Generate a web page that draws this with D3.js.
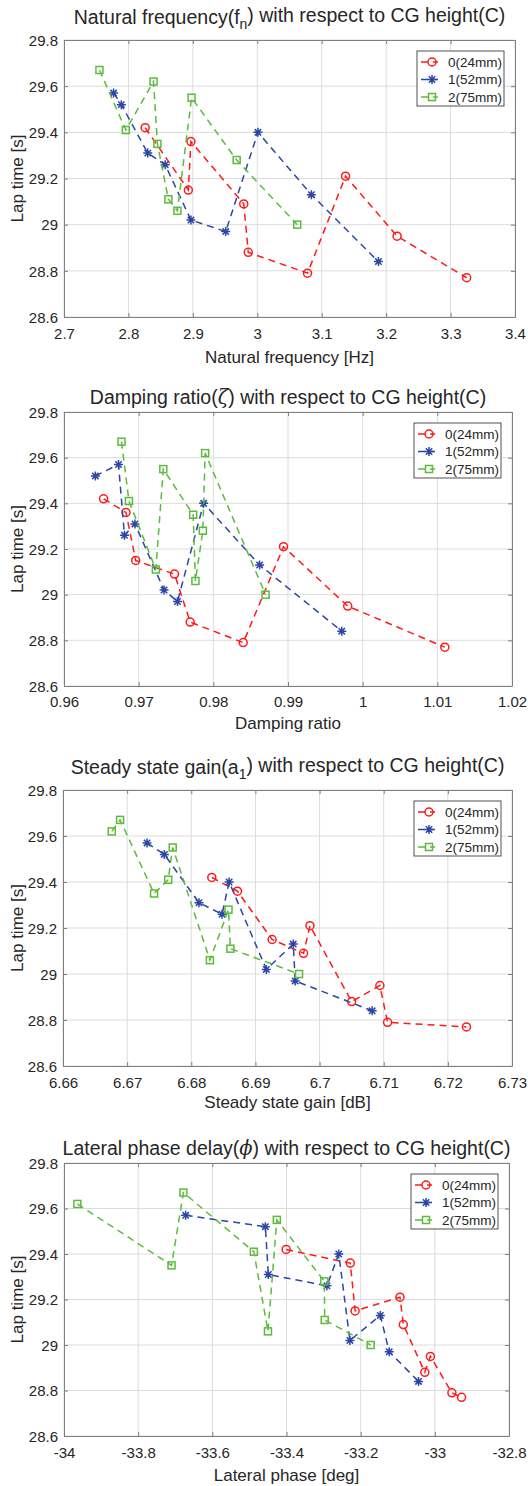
<!DOCTYPE html>
<html>
<head>
<meta charset="utf-8">
<script src="https://cdn.jsdelivr.net/npm/d3@7"></script>
<style>
    body { margin: 0; background: #fff; }
    text { font-family: "Liberation Sans", Arial, sans-serif; fill: #262626; }
</style>
</head>
<body>
<div id="chart"></div>
<script>

// * Data (same 9 runs per CG height, lap time in s)
var seriesNames = ["0(24mm)", "1(52mm)", "2(75mm)"];

var lapTime0 = [29.42, 29.15, 29.36, 29.09, 28.88, 28.79, 29.21, 28.95, 28.77];
var lapTime1 = [29.57, 29.52, 29.31, 29.26, 29.02, 28.97, 29.40, 29.13, 28.84];
var lapTime2 = [29.67, 29.41, 29.62, 29.35, 29.11, 29.06, 29.55, 29.28, 29.00];

// natural frequency [Hz]
var natFreq0 = [2.826, 2.893, 2.897, 2.979, 2.986, 3.078, 3.137, 3.217, 3.325];
var natFreq1 = [2.777, 2.789, 2.830, 2.857, 2.897, 2.951, 3.001, 3.084, 3.188];
var natFreq2 = [2.755, 2.796, 2.839, 2.845, 2.862, 2.876, 2.898, 2.968, 3.062];

// damping ratio
var damping0 = [0.9653, 0.9696, 0.9683, 0.9748, 0.9769, 0.9840, 0.9894, 0.9980, 1.0110];
var damping1 = [0.9673, 0.9642, 0.9695, 0.9681, 0.9734, 0.9752, 0.9787, 0.9862, 0.9972];
var damping2 = [0.9677, 0.9687, 0.9789, 0.9773, 0.9723, 0.9776, 0.9733, 0.9786, 0.9870];

// steady state gain [dB]
var gain0 = [6.6832, 6.6926, 6.6872, 6.6975, 6.7050, 6.7106, 6.6985, 6.7094, 6.7229];
var gain1 = [6.6731, 6.6758, 6.6812, 6.6848, 6.6917, 6.6962, 6.6859, 6.6959, 6.7082];
var gain2 = [6.6689, 6.6764, 6.6676, 6.6742, 6.6861, 6.6829, 6.6771, 6.6858, 6.6968];

// lateral phase [deg]
var phase0 = [-33.401, -33.215, -33.228, -33.085, -33.027, -32.954, -33.094, -33.012, -32.928];
var phase1 = [-33.672, -33.457, -33.449, -33.291, -33.229, -33.123, -33.259, -33.147, -33.044];
var phase2 = [-33.678, -33.488, -33.964, -33.710, -33.297, -33.450, -33.426, -33.298, -33.173];

// * Ticks
var lapTicks = [28.6, 28.8, 29, 29.2, 29.4, 29.6, 29.8];
var lapTickLabels = ["28.6", "28.8", "29", "29.2", "29.4", "29.6", "29.8"];

var natFreqTicks = [2.7, 2.8, 2.9, 3, 3.1, 3.2, 3.3, 3.4];
var natFreqTickLabels = ["2.7", "2.8", "2.9", "3", "3.1", "3.2", "3.3", "3.4"];

var dampingTicks = [0.96, 0.97, 0.98, 0.99, 1, 1.01, 1.02];
var dampingTickLabels = ["0.96", "0.97", "0.98", "0.99", "1", "1.01", "1.02"];

var gainTicks = [6.66, 6.67, 6.68, 6.69, 6.7, 6.71, 6.72, 6.73];
var gainTickLabels = ["6.66", "6.67", "6.68", "6.69", "6.7", "6.71", "6.72", "6.73"];

var phaseTicks = [-34, -33.8, -33.6, -33.4, -33.2, -33, -32.8];
var phaseTickLabels = ["-34", "-33.8", "-33.6", "-33.4", "-33.2", "-33", "-32.8"];


// * Styles
var colors = ["#ff1a1a", "#2b46a6", "#5cbb3c"];
var markers = ["circle", "star", "square"];


/*
 *  lapPanel - one axes of the figure
 *  @param _svg     -- svg selection
 *  @param _config  -- layout, titles, ticks and x values
 */

lapPanel = function(_svg, _config) {
    this.svg = _svg;
    this.config = _config;

    this.initVis();
}

lapPanel.prototype.initVis = function() {
    var vis = this;
    var c = vis.config;

    vis.g = vis.svg.append("g");

    // scales
    vis.x = d3.scaleLinear()
        .domain(d3.extent(c.xTicks))
        .range([c.left, c.right]);

    vis.y = d3.scaleLinear()
        .domain(d3.extent(lapTicks))
        .range([c.bottom, c.top]);

    // grid
    vis.g.selectAll(".gridx")
        .data(c.xTicks)
        .enter().append("line")
        .attr("x1", function(d) { return vis.x(d); })
        .attr("x2", function(d) { return vis.x(d); })
        .attr("y1", c.top)
        .attr("y2", c.bottom)
        .attr("stroke", "#dcdcdc")
        .attr("stroke-width", 1);

    vis.g.selectAll(".gridy")
        .data(lapTicks)
        .enter().append("line")
        .attr("x1", c.left)
        .attr("x2", c.right)
        .attr("y1", function(d) { return vis.y(d); })
        .attr("y2", function(d) { return vis.y(d); })
        .attr("stroke", "#dcdcdc")
        .attr("stroke-width", 1);

    // axes (ticks inward, box on all sides)
    var xBottom = d3.axisBottom(vis.x).tickValues(c.xTicks).tickSizeInner(-4).tickSizeOuter(0)
        .tickFormat(function(d, i) { return c.xTickLabels[i]; });
    var xTop = d3.axisTop(vis.x).tickValues(c.xTicks).tickSizeInner(-4).tickSizeOuter(0)
        .tickFormat("");
    var yLeft = d3.axisLeft(vis.y).tickValues(lapTicks).tickSizeInner(-4).tickSizeOuter(0)
        .tickFormat(function(d, i) { return lapTickLabels[i]; });
    var yRight = d3.axisRight(vis.y).tickValues(lapTicks).tickSizeInner(-4).tickSizeOuter(0)
        .tickFormat("");

    var axB = vis.g.append("g").attr("transform", "translate(0," + c.bottom + ")").call(xBottom);
    var axT = vis.g.append("g").attr("transform", "translate(0," + c.top + ")").call(xTop);
    var axL = vis.g.append("g").attr("transform", "translate(" + c.left + ",0)").call(yLeft);
    var axR = vis.g.append("g").attr("transform", "translate(" + c.right + ",0)").call(yRight);

    [axB, axT, axL, axR].forEach(function(ax) {
        ax.select(".domain").attr("stroke", "#7f7f7f").attr("stroke-width", 1);
        ax.selectAll(".tick line").attr("stroke", "#7f7f7f");
        ax.selectAll("text")
            .attr("fill", "#262626")
            .style("font-family", "'Liberation Sans', Arial, sans-serif")
            .style("font-size", "15px");
    });

    axB.selectAll(".tick text").attr("y", null).attr("dy", null)
        .attr("y", c.tickY - c.bottom).attr("dy", "0.35em");
    axL.selectAll(".tick text").attr("x", -6).attr("dy", "0.35em");

    // title
    var title = vis.g.append("text")
        .attr("x", (c.left + c.right) / 2)
        .attr("y", c.titleY)
        .attr("dy", "0.35em")
        .attr("text-anchor", "middle")
        .style("font-size", "19.5px");
    c.title.forEach(function(part) {
        var t = title.append("tspan").text(part.text);
        if (part.sub) t.attr("dy", "0.35em").style("font-size", "14px");
        if (part.after) t.attr("dy", "-0.35em");
        if (part.italic) t.style("font-style", "italic").style("font-family", "'DejaVu Serif', serif");
    });

    // axis labels
    vis.g.append("text")
        .attr("x", (c.left + c.right) / 2)
        .attr("y", c.xLabelY)
        .attr("dy", "0.35em")
        .attr("text-anchor", "middle")
        .style("font-size", "17px")
        .text(c.xLabel);

    vis.g.append("text")
        .attr("transform", "translate(17," + ((c.top + c.bottom) / 2) + ") rotate(-90)")
        .attr("dy", "0.35em")
        .attr("text-anchor", "middle")
        .style("font-size", "17px")
        .text("Lap time [s]");

    vis.updateVis();
}

lapPanel.prototype.drawMarker = function(sel, type, color) {
    if (type == "circle") {
        sel.append("circle").attr("r", 4)
            .attr("fill", "none").attr("stroke", color).attr("stroke-width", 1.5);
    } else if (type == "square") {
        sel.append("rect").attr("x", -3.5).attr("y", -3.5).attr("width", 7).attr("height", 7)
            .attr("fill", "none").attr("stroke", color).attr("stroke-width", 1.5);
    } else {
        sel.append("path")
            .attr("d", "M0,-4.5V4.5M-4.5,0H4.5M-3.2,-3.2L3.2,3.2M-3.2,3.2L3.2,-3.2")
            .attr("fill", "none").attr("stroke", color).attr("stroke-width", 1.5);
    }
}

lapPanel.prototype.updateVis = function() {
    var vis = this;
    var c = vis.config;
    var lapTimes = [lapTime0, lapTime1, lapTime2];

    var line = d3.line()
        .x(function(d) { return vis.x(d[0]); })
        .y(function(d) { return vis.y(d[1]); });

    c.xValues.forEach(function(xs, s) {
        // matlab plotted each series sorted by x
        var pts = d3.zip(xs, lapTimes[s]).sort(function(a, b) { return a[0] - b[0]; });

        vis.g.append("path")
            .datum(pts)
            .attr("d", line)
            .attr("fill", "none")
            .attr("stroke", colors[s])
            .attr("stroke-width", 1.5)
            .attr("stroke-dasharray", "7,5");

        vis.g.selectAll(".m" + s)
            .data(pts)
            .enter().append("g")
            .attr("class", "m" + s)
            .attr("transform", function(d) { return "translate(" + vis.x(d[0]) + "," + vis.y(d[1]) + ")"; })
            .each(function() { vis.drawMarker(d3.select(this), markers[s], colors[s]); });
    });

    // legend
    var lw = 87, lh = 55;
    var lx = c.right - 11 - lw, ly = c.top + 11;
    var legend = vis.g.append("g").attr("transform", "translate(" + lx + "," + ly + ")");

    legend.append("rect")
        .attr("width", lw).attr("height", lh)
        .attr("fill", "#fff").attr("stroke", "#262626").attr("stroke-width", 0.8);

    seriesNames.forEach(function(name, s) {
        var yy = 11 + s * 17.5;
        legend.append("line")
            .attr("x1", 4).attr("x2", 21).attr("y1", yy).attr("y2", yy)
            .attr("stroke", colors[s]).attr("stroke-width", 1.5)
            .attr("stroke-dasharray", "7,5");
        var m = legend.append("g").attr("transform", "translate(15," + yy + ")");
        vis.drawMarker(m, markers[s], colors[s]);
        legend.append("text")
            .attr("x", 31).attr("y", yy).attr("dy", "0.35em")
            .style("font-size", "13.5px")
            .text(name);
    });
}


// * Build figure
var svg = d3.select("#chart").append("svg")
    .attr("width", 528)
    .attr("height", 1486);

svg.append("rect").attr("width", 528).attr("height", 1486).attr("fill", "#fff");

new lapPanel(svg, {
    left: 64, right: 515, top: 40, bottom: 317,
    titleY: 17, tickY: 334, xLabelY: 357,
    title: [{text: "Natural frequency(f"}, {text: "n", sub: true}, {text: ") with respect to CG height(C)", after: true}],
    xLabel: "Natural frequency [Hz]",
    xTicks: natFreqTicks, xTickLabels: natFreqTickLabels,
    xValues: [natFreq0, natFreq1, natFreq2]
});

new lapPanel(svg, {
    left: 64, right: 512, top: 412, bottom: 686,
    titleY: 397, tickY: 702, xLabelY: 723,
    title: [{text: "Damping ratio("}, {text: "ζ", italic: true}, {text: ") with respect to CG height(C)"}],
    xLabel: "Damping ratio",
    xTicks: dampingTicks, xTickLabels: dampingTickLabels,
    xValues: [damping0, damping1, damping2]
});

new lapPanel(svg, {
    left: 63, right: 512, top: 790, bottom: 1066,
    titleY: 767, tickY: 1083, xLabelY: 1102,
    title: [{text: "Steady state gain(a"}, {text: "1", sub: true}, {text: ") with respect to CG height(C)", after: true}],
    xLabel: "Steady state gain [dB]",
    xTicks: gainTicks, xTickLabels: gainTickLabels,
    xValues: [gain0, gain1, gain2]
});

new lapPanel(svg, {
    left: 64, right: 509, top: 1163, bottom: 1436,
    titleY: 1148, tickY: 1453, xLabelY: 1475,
    title: [{text: "Lateral phase delay("}, {text: "ϕ", italic: true}, {text: ") with respect to CG height(C)"}],
    xLabel: "Lateral phase [deg]",
    xTicks: phaseTicks, xTickLabels: phaseTickLabels,
    xValues: [phase0, phase1, phase2]
});

</script>
</body>
</html>
